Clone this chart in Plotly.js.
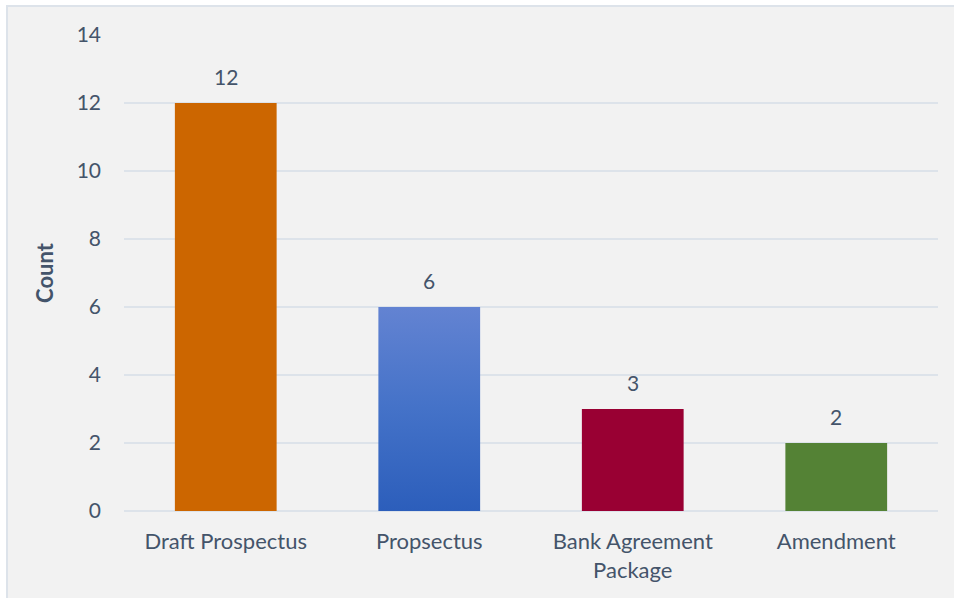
<!DOCTYPE html>
<html>
<head>
<meta charset="utf-8">
<script src="https://cdn.plot.ly/plotly-3.0.1.min.js"></script>
<style>
html,body{margin:0;padding:0;background:#ffffff;}
#frame{position:absolute;left:6px;top:5px;width:948px;height:593px;background:#f2f2f2;border-left:2px solid #dde3ea;border-top:2px solid #dde3ea;box-sizing:border-box;}
#chart{width:946px;height:591px;}
</style>
</head>
<body>
<div id="frame"><div id="chart"></div></div>
<script>
const categories = ["Draft Prospectus", "Propsectus", "Bank Agreement<br>Package", "Amendment"];
const counts = [12, 6, 3, 2];
const barColors = ["#cc6600", "#4472c4", "#990033", "#548235"];
const yTicks = [0, 2, 4, 6, 8, 10, 12, 14];

const textColor = "#44546a";
const font = "Lato, 'Noto Sans', sans-serif";

const trace = {
  type: "bar",
  x: categories,
  y: counts,
  marker: {color: barColors, line: {width: 0}},
  hoverinfo: "x+y"
};

const labels = categories.map(function(c, i){
  return {
    x: c, y: counts[i], xref: "x", yref: "y",
    text: String(counts[i]),
    showarrow: false,
    yanchor: "bottom",
    yshift: 12,
    font: {family: font, size: 21, color: textColor}
  };
});

const layout = {
  width: 946, height: 591,
  margin: {l: 116, r: 16, t: 28, b: 87},
  paper_bgcolor: "rgba(0,0,0,0)",
  plot_bgcolor: "rgba(0,0,0,0)",
  bargap: 0.5,
  showlegend: false,
  font: {family: font, color: textColor, size: 21},
  annotations: labels,
  xaxis: {
    type: "category",
    showgrid: false,
    showline: false,
    zeroline: false,
    ticks: "",
    ticklabelstandoff: 15,
    tickfont: {family: font, size: 22, color: textColor},
    automargin: false
  },
  yaxis: {
    range: [0, 14],
    tickvals: yTicks,
    ticktext: yTicks.map(String),
    showgrid: true,
    gridcolor: "#dde3ea",
    gridwidth: 2,
    zeroline: true,
    zerolinecolor: "#dde3ea",
    zerolinewidth: 2,
    showline: false,
    ticks: "",
    ticklabelstandoff: 22,
    tickfont: {family: font, size: 21, color: textColor},
    title: {text: "<b>Count</b>", font: {family: font, size: 22, color: textColor}, standoff: 16},
    automargin: false
  }
};

Plotly.newPlot("chart", [trace], layout, {displayModeBar: false, staticPlot: true}).then(function(gd){
  const svg = gd.querySelector("svg.main-svg");
  const ns = "http://www.w3.org/2000/svg";
  let defs = svg.querySelector("defs");
  if (!defs) { defs = document.createElementNS(ns, "defs"); svg.insertBefore(defs, svg.firstChild); }
  const lg = document.createElementNS(ns, "linearGradient");
  lg.setAttribute("id", "propGrad");
  lg.setAttribute("x1", "0"); lg.setAttribute("y1", "0");
  lg.setAttribute("x2", "0"); lg.setAttribute("y2", "1");
  [["0", "#6383d2"], ["0.5", "#4472c8"], ["1", "#2c5ebb"]].forEach(function(s){
    const st = document.createElementNS(ns, "stop");
    st.setAttribute("offset", s[0]);
    st.setAttribute("stop-color", s[1]);
    lg.appendChild(st);
  });
  defs.appendChild(lg);
  const paths = gd.querySelectorAll(".barlayer .point path");
  if (paths[1]) { paths[1].style.fill = "url(#propGrad)"; }
});
</script>
</body>
</html>
